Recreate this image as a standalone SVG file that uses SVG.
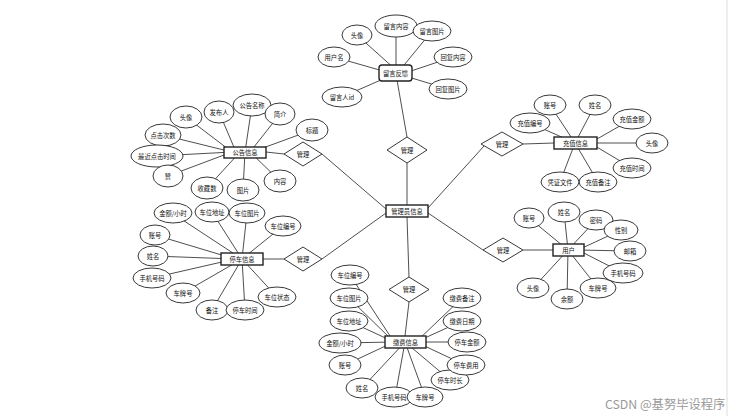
<svg xmlns="http://www.w3.org/2000/svg" width="741" height="416" viewBox="0 0 741 416">
<style>
.l{stroke:#222;stroke-width:0.8;fill:none}
.e{fill:#fff;stroke:#222;stroke-width:0.9}
.r{fill:#fff;stroke:#222;stroke-width:1.4}
.d{fill:#fff;stroke:#222;stroke-width:0.9}
text{font-family:"Noto Sans CJK SC","Liberation Sans",sans-serif;font-size:6.3px;fill:#111;text-anchor:middle;dominant-baseline:central}
.wm{font-size:12.3px;fill:#999;text-anchor:start}
</style>
<rect width="741" height="416" fill="#fff"/>
<line x1="727" y1="0" x2="727" y2="416" stroke="#ddd" stroke-width="1"/>
<g id="connectors">
<line class="l" x1="407" y1="205" x2="407" y2="163"/>
<line class="l" x1="407" y1="137" x2="397" y2="80"/>
<line class="l" x1="407" y1="217" x2="409" y2="277"/>
<line class="l" x1="409" y1="302" x2="405" y2="336"/>
<line class="l" x1="386" y1="209" x2="322" y2="154"/>
<line class="l" x1="266" y1="152" x2="284" y2="154"/>
<line class="l" x1="386" y1="213" x2="322" y2="259"/>
<line class="l" x1="263" y1="259" x2="284" y2="259"/>
<line class="l" x1="428" y1="208" x2="484" y2="146"/>
<line class="l" x1="523" y1="144" x2="554" y2="143"/>
<line class="l" x1="428" y1="213" x2="483" y2="250"/>
<line class="l" x1="523" y1="250" x2="553" y2="250"/>
<line class="l" x1="357" y1="35" x2="396" y2="70"/>
<line class="l" x1="396" y1="26" x2="396" y2="70"/>
<line class="l" x1="432" y1="31" x2="400" y2="70"/>
<line class="l" x1="334" y1="57" x2="390" y2="73"/>
<line class="l" x1="453" y1="57" x2="405" y2="73"/>
<line class="l" x1="342" y1="97" x2="390" y2="76"/>
<line class="l" x1="448" y1="89" x2="405" y2="76"/>
<line class="l" x1="186" y1="117" x2="232" y2="152"/>
<line class="l" x1="219" y1="112" x2="236" y2="152"/>
<line class="l" x1="252" y1="105" x2="245" y2="152"/>
<line class="l" x1="280" y1="114" x2="250" y2="152"/>
<line class="l" x1="312" y1="130" x2="252" y2="152"/>
<line class="l" x1="163" y1="135" x2="232" y2="152"/>
<line class="l" x1="157" y1="156" x2="232" y2="152"/>
<line class="l" x1="168" y1="176" x2="232" y2="152"/>
<line class="l" x1="207" y1="188" x2="240" y2="152"/>
<line class="l" x1="243" y1="190" x2="245" y2="152"/>
<line class="l" x1="280" y1="181" x2="250" y2="152"/>
<line class="l" x1="172" y1="213" x2="242" y2="259"/>
<line class="l" x1="212" y1="212" x2="242" y2="259"/>
<line class="l" x1="247" y1="213" x2="242" y2="259"/>
<line class="l" x1="283" y1="226" x2="242" y2="259"/>
<line class="l" x1="155" y1="235" x2="235" y2="259"/>
<line class="l" x1="153" y1="256" x2="235" y2="259"/>
<line class="l" x1="152" y1="278" x2="235" y2="259"/>
<line class="l" x1="183" y1="293" x2="242" y2="259"/>
<line class="l" x1="212" y1="310" x2="242" y2="259"/>
<line class="l" x1="245" y1="310" x2="242" y2="259"/>
<line class="l" x1="277" y1="297" x2="242" y2="259"/>
<line class="l" x1="350" y1="275" x2="394" y2="342"/>
<line class="l" x1="349" y1="298" x2="394" y2="342"/>
<line class="l" x1="349" y1="321" x2="394" y2="342"/>
<line class="l" x1="340" y1="343" x2="394" y2="342"/>
<line class="l" x1="345" y1="365" x2="394" y2="342"/>
<line class="l" x1="362" y1="388" x2="405" y2="342"/>
<line class="l" x1="395" y1="397" x2="405" y2="342"/>
<line class="l" x1="425" y1="397" x2="405" y2="342"/>
<line class="l" x1="450" y1="380" x2="405" y2="342"/>
<line class="l" x1="465" y1="365" x2="416" y2="342"/>
<line class="l" x1="467" y1="342" x2="416" y2="342"/>
<line class="l" x1="462" y1="321" x2="416" y2="342"/>
<line class="l" x1="462" y1="298" x2="416" y2="342"/>
<line class="l" x1="550" y1="105" x2="575" y2="143"/>
<line class="l" x1="595" y1="105" x2="575" y2="143"/>
<line class="l" x1="530" y1="123" x2="575" y2="143"/>
<line class="l" x1="632" y1="119" x2="590" y2="143"/>
<line class="l" x1="652" y1="143" x2="590" y2="143"/>
<line class="l" x1="632" y1="168" x2="590" y2="143"/>
<line class="l" x1="598" y1="182" x2="575" y2="143"/>
<line class="l" x1="560" y1="182" x2="575" y2="143"/>
<line class="l" x1="529" y1="218" x2="568" y2="250"/>
<line class="l" x1="564" y1="212" x2="568" y2="250"/>
<line class="l" x1="596" y1="220" x2="568" y2="250"/>
<line class="l" x1="621" y1="230" x2="578" y2="250"/>
<line class="l" x1="630" y1="251" x2="578" y2="250"/>
<line class="l" x1="623" y1="273" x2="578" y2="250"/>
<line class="l" x1="598" y1="288" x2="568" y2="250"/>
<line class="l" x1="567" y1="299" x2="568" y2="250"/>
<line class="l" x1="533" y1="288" x2="568" y2="250"/>
</g>
<g id="admin"><rect class="r" x="386" y="205" width="42" height="12"/><text x="407" y="211">管理员信息</text></g>
<g id="rel-top"><polygon class="d" points="407,137 427,150 407,163 387,150"/><text x="407" y="150">管理</text></g>
<g id="rel-bottom"><polygon class="d" points="409,277 429,289.5 409,302 389,289.5"/><text x="409" y="289.5">管理</text></g>
<g id="rel-notice"><polygon class="d" points="303,142 322,154 303,166 284,154"/><text x="303" y="154">管理</text></g>
<g id="rel-park"><polygon class="d" points="303,247 322,259 303,271 284,259"/><text x="303" y="259">管理</text></g>
<g id="rel-recharge"><polygon class="d" points="502,132 523,144 502,156 481,144"/><text x="502" y="144">管理</text></g>
<g id="rel-user"><polygon class="d" points="503,238 523,250 503,262 483,250"/><text x="503" y="250">管理</text></g>
<g id="feedback"><rect class="r" x="379" y="65" width="33" height="16" rx="3"/><text x="395.5" y="73">留言反馈</text></g>
<g id="fb-a1"><ellipse class="e" cx="357" cy="35" rx="15" ry="10"/><text x="357" y="35">头像</text></g>
<g id="fb-a2"><ellipse class="e" cx="396" cy="26" rx="21" ry="11"/><text x="396" y="26">留言内容</text></g>
<g id="fb-a3"><ellipse class="e" cx="432" cy="31" rx="19" ry="10"/><text x="432" y="31">留言图片</text></g>
<g id="fb-a4"><ellipse class="e" cx="334" cy="57" rx="16" ry="10"/><text x="334" y="57">用户名</text></g>
<g id="fb-a5"><ellipse class="e" cx="453" cy="57" rx="19" ry="10"/><text x="453" y="57">回复内容</text></g>
<g id="fb-a6"><ellipse class="e" cx="342" cy="97" rx="20" ry="10"/><text x="342" y="97">留言人id</text></g>
<g id="fb-a7"><ellipse class="e" cx="448" cy="89" rx="19" ry="10"/><text x="448" y="89">回复图片</text></g>
<g id="notice"><rect class="r" x="224" y="147" width="42" height="11"/><text x="245" y="152.5">公告信息</text></g>
<g id="nt-a1"><ellipse class="e" cx="186" cy="117" rx="16" ry="11"/><text x="186" y="117">头像</text></g>
<g id="nt-a2"><ellipse class="e" cx="219" cy="112" rx="15" ry="11"/><text x="219" y="112">发布人</text></g>
<g id="nt-a3"><ellipse class="e" cx="252" cy="105" rx="19" ry="11"/><text x="252" y="105">公告名称</text></g>
<g id="nt-a4"><ellipse class="e" cx="280" cy="114" rx="15" ry="11"/><text x="280" y="114">简介</text></g>
<g id="nt-a5"><ellipse class="e" cx="312" cy="130" rx="16" ry="11"/><text x="312" y="130">标题</text></g>
<g id="nt-a6"><ellipse class="e" cx="163" cy="135" rx="18" ry="11"/><text x="163" y="135">点击次数</text></g>
<g id="nt-a7"><ellipse class="e" cx="157" cy="156" rx="26" ry="11"/><text x="157" y="156">最近点击时间</text></g>
<g id="nt-a8"><ellipse class="e" cx="168" cy="176" rx="15" ry="11"/><text x="168" y="176">赞</text></g>
<g id="nt-a9"><ellipse class="e" cx="207" cy="188" rx="16" ry="11"/><text x="207" y="188">收藏数</text></g>
<g id="nt-a10"><ellipse class="e" cx="243" cy="190" rx="16" ry="11"/><text x="243" y="190">图片</text></g>
<g id="nt-a11"><ellipse class="e" cx="280" cy="181" rx="16" ry="11"/><text x="280" y="181">内容</text></g>
<g id="parking"><rect class="r" x="221" y="253" width="42" height="12"/><text x="242" y="259">停车信息</text></g>
<g id="pk-a1"><ellipse class="e" cx="173" cy="213" rx="19" ry="10"/><text x="173" y="213">金额/小时</text></g>
<g id="pk-a2"><ellipse class="e" cx="212" cy="212" rx="17" ry="10"/><text x="212" y="212">车位地址</text></g>
<g id="pk-a3"><ellipse class="e" cx="247" cy="213" rx="18" ry="10"/><text x="247" y="213">车位图片</text></g>
<g id="pk-a4"><ellipse class="e" cx="283" cy="226" rx="18" ry="10"/><text x="283" y="226">车位编号</text></g>
<g id="pk-a5"><ellipse class="e" cx="155" cy="235" rx="15" ry="10"/><text x="155" y="235">账号</text></g>
<g id="pk-a6"><ellipse class="e" cx="153" cy="256" rx="15" ry="10"/><text x="153" y="256">姓名</text></g>
<g id="pk-a7"><ellipse class="e" cx="152" cy="278" rx="19" ry="10"/><text x="152" y="278">手机号码</text></g>
<g id="pk-a8"><ellipse class="e" cx="183" cy="293" rx="17" ry="10"/><text x="183" y="293">车牌号</text></g>
<g id="pk-a9"><ellipse class="e" cx="212" cy="310" rx="16" ry="10"/><text x="212" y="310">备注</text></g>
<g id="pk-a10"><ellipse class="e" cx="245" cy="310" rx="19" ry="10"/><text x="245" y="310">停车时间</text></g>
<g id="pk-a11"><ellipse class="e" cx="277" cy="297" rx="19" ry="10"/><text x="277" y="297">车位状态</text></g>
<g id="payment"><rect class="r" x="385" y="336" width="41" height="12"/><text x="405.5" y="342">缴费信息</text></g>
<g id="pay-a1"><ellipse class="e" cx="350" cy="275" rx="19" ry="10"/><text x="350" y="275">车位编号</text></g>
<g id="pay-a2"><ellipse class="e" cx="349" cy="298" rx="19" ry="10"/><text x="349" y="298">车位图片</text></g>
<g id="pay-a3"><ellipse class="e" cx="349" cy="321" rx="19" ry="10"/><text x="349" y="321">车位地址</text></g>
<g id="pay-a4"><ellipse class="e" cx="340" cy="343" rx="21" ry="10"/><text x="340" y="343">金额/小时</text></g>
<g id="pay-a5"><ellipse class="e" cx="345" cy="365" rx="16" ry="10"/><text x="345" y="365">账号</text></g>
<g id="pay-a6"><ellipse class="e" cx="362" cy="388" rx="16" ry="10"/><text x="362" y="388">姓名</text></g>
<g id="pay-a7"><ellipse class="e" cx="394" cy="397" rx="19" ry="10"/><text x="394" y="397">手机号码</text></g>
<g id="pay-a8"><ellipse class="e" cx="425" cy="397" rx="18" ry="10"/><text x="425" y="397">车牌号</text></g>
<g id="pay-a9"><ellipse class="e" cx="450" cy="380" rx="19" ry="10"/><text x="450" y="380">停车时长</text></g>
<g id="pay-a10"><ellipse class="e" cx="466" cy="365" rx="19" ry="10"/><text x="466" y="365">停车费用</text></g>
<g id="pay-a11"><ellipse class="e" cx="467" cy="342" rx="19" ry="10"/><text x="467" y="342">停车金额</text></g>
<g id="pay-a12"><ellipse class="e" cx="462" cy="321" rx="19" ry="10"/><text x="462" y="321">缴费日期</text></g>
<g id="pay-a13"><ellipse class="e" cx="462" cy="298" rx="19" ry="10"/><text x="462" y="298">缴费备注</text></g>
<g id="recharge"><rect class="r" x="554" y="137" width="43" height="12"/><text x="575.5" y="143">充值信息</text></g>
<g id="rc-a1"><ellipse class="e" cx="550" cy="105" rx="16" ry="10"/><text x="550" y="105">账号</text></g>
<g id="rc-a2"><ellipse class="e" cx="595" cy="105" rx="16" ry="10"/><text x="595" y="105">姓名</text></g>
<g id="rc-a3"><ellipse class="e" cx="530" cy="123" rx="20" ry="10"/><text x="530" y="123">充值编号</text></g>
<g id="rc-a4"><ellipse class="e" cx="632" cy="119" rx="19" ry="10"/><text x="632" y="119">充值金额</text></g>
<g id="rc-a5"><ellipse class="e" cx="652" cy="143" rx="16" ry="10"/><text x="652" y="143">头像</text></g>
<g id="rc-a6"><ellipse class="e" cx="632" cy="168" rx="19" ry="10"/><text x="632" y="168">充值时间</text></g>
<g id="rc-a7"><ellipse class="e" cx="598" cy="182" rx="19" ry="10"/><text x="598" y="182">充值备注</text></g>
<g id="rc-a8"><ellipse class="e" cx="560" cy="182" rx="19" ry="10"/><text x="560" y="182">凭证文件</text></g>
<g id="user"><rect class="r" x="553" y="244" width="31" height="12"/><text x="568.5" y="250">用户</text></g>
<g id="us-a1"><ellipse class="e" cx="529" cy="218" rx="15" ry="10"/><text x="529" y="218">账号</text></g>
<g id="us-a2"><ellipse class="e" cx="564" cy="212" rx="16" ry="10"/><text x="564" y="212">姓名</text></g>
<g id="us-a3"><ellipse class="e" cx="596" cy="220" rx="17" ry="10"/><text x="596" y="220">密码</text></g>
<g id="us-a4"><ellipse class="e" cx="621" cy="230" rx="17" ry="10"/><text x="621" y="230">性别</text></g>
<g id="us-a5"><ellipse class="e" cx="630" cy="251" rx="16" ry="10"/><text x="630" y="251">邮箱</text></g>
<g id="us-a6"><ellipse class="e" cx="623" cy="273" rx="20" ry="10"/><text x="623" y="273">手机号码</text></g>
<g id="us-a7"><ellipse class="e" cx="598" cy="288" rx="18" ry="10"/><text x="598" y="288">车牌号</text></g>
<g id="us-a8"><ellipse class="e" cx="567" cy="299" rx="16" ry="10"/><text x="567" y="299">余额</text></g>
<g id="us-a9"><ellipse class="e" cx="533" cy="288" rx="16" ry="10"/><text x="533" y="288">头像</text></g>
<text class="wm" x="605" y="404">CSDN @基努毕设程序</text>
</svg>
